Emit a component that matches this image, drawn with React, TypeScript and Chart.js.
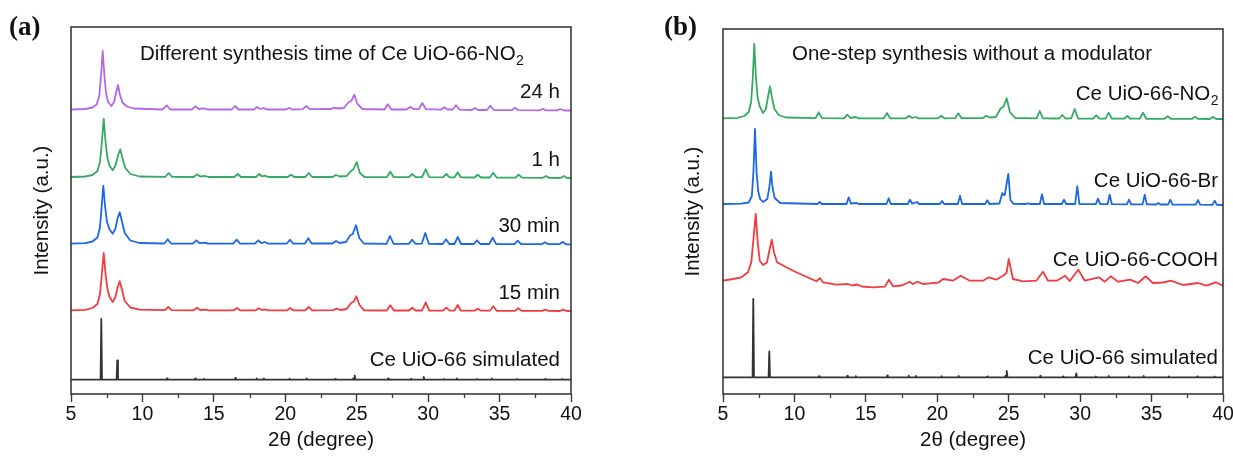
import React, { useEffect, useRef } from "react";
import { Chart, registerables } from "chart.js";

Chart.register(...registerables);

type Pt = [number, number];

const SANS = '"Liberation Sans", Arial, sans-serif';

const majorTicks = [5, 10, 15, 20, 25, 30, 35, 40];
const minorTicks = [7.5, 12.5, 17.5, 22.5, 27.5, 32.5, 37.5];

// ---------- Panel (a): stacked patterns (2θ, offset intensity a.u.) ----------
const a24h: Pt[] = [
  [5.0, 284.5], [6.0, 285], [6.5, 286.5], [6.8, 289.5], [6.98, 298], [7.1, 318], [7.22, 343], [7.34, 318], [7.46, 300], [7.6, 292], [7.82, 288], [8.02, 292], [8.15, 301], [8.29, 309], [8.43, 299], [8.6, 291.5], [8.9, 287.5], [9.4, 285.5],
  [11.4, 284.5], [11.7, 288.7], [11.95, 284.5],
  [13.45, 284.5], [13.7, 287.7], [13.95, 285], [14.29, 285.7], [14.55, 284.5],
  [16.25, 284.5], [16.48, 288], [16.72, 284.5],
  [17.8, 284.5], [18.02, 287], [18.25, 285], [18.49, 286], [18.7, 284.5],
  [20.05, 284.5], [20.28, 286.3], [20.5, 284.5],
  [21.22, 284.8], [21.47, 288], [21.72, 284.8],
  [23.2, 285], [23.43, 286.3], [23.7, 285.5],
  [24.1, 286], [24.44, 292], [24.62, 293], [24.83, 299.3], [25.05, 290], [25.4, 285],
  [26.95, 284.5], [27.17, 289.7], [27.42, 284.5],
  [28.5, 284.5], [28.75, 287.3], [29.0, 284.8],
  [29.35, 285], [29.59, 291], [29.85, 284.8],
  [30.9, 284.3], [31.13, 286.7], [31.35, 284.5],
  [31.72, 284.5], [31.95, 288.7], [32.2, 284.3],
  [33.05, 284], [33.28, 286], [33.5, 284],
  [34.12, 284], [34.35, 288.3], [34.6, 284],
  [35.85, 283.8], [36.08, 286.3], [36.3, 283.8],
  [37.8, 283.7], [38.02, 285.3], [38.25, 283.6],
  [39.02, 283.6], [39.25, 285], [39.5, 283.5], [40, 283.5],
];

const a1h: Pt[] = [
  [5.0, 217], [6.0, 217.5], [6.5, 219], [6.85, 223], [7.03, 232], [7.16, 252], [7.29, 275.3], [7.42, 252], [7.55, 236], [7.7, 228], [7.92, 223.7], [8.12, 229], [8.3, 239], [8.45, 244.7], [8.6, 236], [8.8, 226], [9.15, 220], [9.8, 217.5],
  [11.6, 217.2], [11.84, 221], [12.08, 217.2],
  [13.58, 217], [13.82, 219.7], [14.05, 217.5], [14.4, 218], [14.62, 217],
  [16.43, 217], [16.67, 220], [16.9, 217],
  [17.95, 217], [18.18, 220], [18.38, 217.5], [18.58, 218.3], [18.8, 217],
  [20.17, 217], [20.4, 219.3], [20.63, 217],
  [21.4, 217], [21.64, 221], [21.88, 217],
  [23.3, 217], [23.55, 219], [23.8, 217.5],
  [24.3, 218], [24.6, 223], [24.78, 225], [25.0, 232], [25.22, 221], [25.55, 217],
  [27.1, 216.8], [27.35, 222.3], [27.6, 216.8],
  [28.65, 216.8], [28.89, 220], [29.12, 216.8],
  [29.58, 217], [29.83, 224.7], [30.08, 216.8],
  [31.04, 216.6], [31.27, 220], [31.5, 216.6],
  [31.84, 216.6], [32.07, 221.7], [32.3, 216.6],
  [33.24, 216.5], [33.47, 219.3], [33.7, 216.5],
  [34.32, 216.5], [34.56, 221.3], [34.8, 216.4],
  [36.1, 216.3], [36.34, 219.3], [36.57, 216.3],
  [38.02, 216.2], [38.25, 218], [38.48, 216.1],
  [39.26, 216], [39.49, 218], [39.72, 216], [40, 216],
];

const a30min: Pt[] = [
  [5.0, 150.3], [6.0, 150.8], [6.5, 152.5], [6.85, 156.5], [7.02, 166], [7.14, 186], [7.26, 208.3], [7.39, 187], [7.52, 172], [7.68, 165], [7.92, 160.3], [8.1, 165], [8.27, 176], [8.41, 181.7], [8.56, 173], [8.76, 161], [9.15, 153.5], [9.8, 151],
  [11.53, 150.5], [11.77, 154.7], [12.0, 150.5],
  [13.53, 150.3], [13.77, 153.7], [14.0, 150.8], [14.38, 151.3], [14.6, 150.3],
  [16.36, 150.3], [16.6, 154.3], [16.84, 150.3],
  [17.87, 150.3], [18.11, 153.7], [18.33, 150.8], [18.58, 152], [18.8, 150.3],
  [20.1, 150.3], [20.33, 154.3], [20.56, 150.3],
  [21.37, 150.5], [21.61, 155.7], [21.85, 150.5],
  [23.3, 150.5], [23.55, 153], [23.8, 151],
  [24.25, 152], [24.55, 158.7], [24.72, 160], [24.95, 168.7], [25.18, 156], [25.5, 150.5],
  [27.08, 150.2], [27.33, 158], [27.58, 150.2],
  [28.65, 150.2], [28.89, 154.3], [29.12, 150.2],
  [29.55, 150.3], [29.8, 161], [30.05, 150.2],
  [31.02, 150], [31.25, 154.7], [31.48, 150],
  [31.84, 150], [32.07, 157], [32.3, 150],
  [33.19, 150], [33.42, 153.7], [33.65, 150],
  [34.28, 150], [34.52, 156.3], [34.76, 149.9],
  [36.04, 149.9], [36.27, 153.3], [36.5, 149.9],
  [37.95, 149.8], [38.18, 151.7], [38.41, 149.8],
  [39.19, 149.8], [39.42, 152], [39.65, 149.7], [40, 149.7],
];

const a15min: Pt[] = [
  [5.0, 83.7], [6.0, 84.2], [6.5, 86], [6.85, 90], [7.03, 100], [7.16, 120], [7.29, 141], [7.42, 120], [7.55, 105], [7.7, 97], [7.92, 92], [8.1, 96.5], [8.27, 107], [8.41, 112.7], [8.56, 105], [8.76, 93], [9.15, 86.5], [9.8, 84.3],
  [11.57, 83.8], [11.81, 87], [12.05, 83.8],
  [13.58, 83.7], [13.82, 86.3], [14.05, 84], [14.4, 84.3], [14.62, 83.6],
  [16.38, 83.6], [16.62, 86], [16.86, 83.6],
  [17.9, 83.6], [18.14, 85.7], [18.37, 84], [18.6, 84.7], [18.82, 83.6],
  [20.12, 83.6], [20.35, 86], [20.58, 83.6],
  [21.4, 83.7], [21.64, 87], [21.88, 83.7],
  [23.35, 83.8], [23.6, 85.3], [23.85, 84],
  [24.3, 85], [24.6, 91], [24.77, 92], [24.97, 97.7], [25.2, 89], [25.52, 83.7],
  [27.1, 83.5], [27.35, 88.7], [27.6, 83.5],
  [28.65, 83.5], [28.89, 86.3], [29.12, 83.5],
  [29.58, 83.5], [29.83, 91.7], [30.08, 83.4],
  [31.04, 83.4], [31.27, 86.3], [31.5, 83.4],
  [31.84, 83.4], [32.07, 89], [32.3, 83.3],
  [33.24, 83.3], [33.47, 85.3], [33.7, 83.3],
  [34.32, 83.3], [34.56, 87.7], [34.8, 83.2],
  [36.08, 83.2], [36.31, 85.7], [36.54, 83.1],
  [37.97, 83.1], [38.2, 84.3], [38.43, 83.1],
  [39.23, 83], [39.46, 84.3], [39.69, 83], [40, 83],
];

const aSimulated: Pt[] = [
  [5.0, 14.3], [7.07, 14.3], [7.12, 75], [7.17, 14.3], [8.19, 14.3], [8.24, 33.7], [8.29, 14.3],
  [11.68, 14.3], [11.72, 15.5], [11.76, 14.3],
  [13.66, 14.3], [13.7, 15.5], [13.74, 14.3],
  [14.26, 14.3], [14.3, 15.2], [14.34, 14.3],
  [16.46, 14.3], [16.5, 16], [16.54, 14.3],
  [17.96, 14.3], [18.0, 15.7], [18.04, 14.3],
  [18.46, 14.3], [18.5, 15.5], [18.54, 14.3],
  [20.26, 14.3], [20.3, 15.3], [20.34, 14.3],
  [21.46, 14.3], [21.5, 15.5], [21.54, 14.3],
  [23.46, 14.3], [23.5, 15], [23.54, 14.3],
  [24.72, 14.3], [24.76, 15.5], [24.8, 14.3], [24.82, 14.3], [24.86, 18.7], [24.92, 14.3],
  [27.16, 14.3], [27.2, 15.5], [27.24, 14.3],
  [28.76, 14.3], [28.8, 15], [28.84, 14.3],
  [29.65, 14.3], [29.69, 17], [29.74, 14.3],
  [31.06, 14.3], [31.1, 15], [31.14, 14.3],
  [31.96, 14.3], [32.0, 15.5], [32.04, 14.3],
  [33.36, 14.3], [33.4, 15], [33.44, 14.3],
  [34.41, 14.3], [34.45, 15.5], [34.49, 14.3],
  [36.16, 14.3], [36.2, 15], [36.24, 14.3],
  [38.16, 14.3], [38.2, 15], [38.24, 14.3],
  [39.36, 14.3], [39.4, 15], [39.44, 14.3], [40, 14.3],
];

// ---------- Panel (b) ----------
const bNO2: Pt[] = [
  [5.0, 275.7], [6.0, 276.2], [6.5, 278], [6.8, 282], [6.97, 292], [7.08, 315], [7.19, 350], [7.3, 318], [7.42, 297], [7.56, 288], [7.8, 281], [8.0, 285], [8.15, 297], [8.29, 307.7], [8.42, 297], [8.6, 285], [8.9, 279], [9.4, 276.5],
  [11.48, 275.8], [11.7, 281.7], [11.92, 275.8],
  [13.48, 275.7], [13.7, 279.3], [13.92, 276], [14.29, 277], [14.5, 275.7],
  [16.26, 275.7], [16.48, 281], [16.7, 275.7],
  [17.8, 275.7], [18.02, 278.3], [18.25, 276], [18.49, 277], [18.7, 275.7],
  [20.06, 275.7], [20.28, 278.3], [20.5, 275.7],
  [21.25, 275.8], [21.47, 280.7], [21.7, 275.8],
  [23.2, 276], [23.43, 278.3], [23.68, 276.5],
  [24.1, 277], [24.44, 285.7], [24.62, 287], [24.86, 295.7], [25.08, 282], [25.45, 276],
  [26.95, 275.6], [27.17, 283], [27.4, 275.6],
  [28.53, 275.5], [28.75, 279], [28.97, 275.5],
  [29.38, 275.7], [29.62, 285], [29.86, 275.5],
  [30.91, 275.4], [31.13, 278.7], [31.35, 275.4],
  [31.78, 275.4], [32.0, 281.3], [32.22, 275.3],
  [33.08, 275.3], [33.3, 278], [33.52, 275.3],
  [34.17, 275.3], [34.4, 281.3], [34.63, 275.2],
  [35.9, 275.2], [36.13, 277.7], [36.35, 275.2],
  [37.82, 275.1], [38.04, 277.3], [38.26, 275.1],
  [39.08, 275], [39.3, 277], [39.52, 275], [40, 275],
];

const bBr: Pt[] = [
  [5.0, 190], [6.3, 190.3], [6.8, 191.5], [7.02, 198], [7.13, 222], [7.24, 265], [7.35, 222], [7.46, 203], [7.6, 195], [7.8, 192], [8.1, 195], [8.25, 207], [8.36, 222.3], [8.47, 206], [8.62, 196], [9.0, 191],
  [11.62, 190], [11.77, 192], [11.92, 190],
  [13.65, 190], [13.8, 196.7], [13.95, 190.5], [14.36, 191], [14.5, 190],
  [16.45, 190], [16.6, 195.7], [16.75, 190],
  [17.94, 190], [18.09, 194.3], [18.25, 190.3], [18.58, 192], [18.72, 190],
  [20.18, 190], [20.33, 193], [20.48, 190],
  [21.44, 190], [21.59, 198.3], [21.74, 190],
  [23.35, 190], [23.5, 193.7], [23.65, 190],
  [24.35, 190.5], [24.55, 201], [24.65, 199], [24.72, 199], [24.97, 220], [25.12, 194], [25.35, 190.2],
  [26.2, 190], [26.35, 190.7], [26.5, 190],
  [27.18, 190], [27.33, 199.7], [27.48, 190],
  [28.72, 190], [28.87, 194.3], [29.02, 190],
  [29.65, 190], [29.8, 207.7], [29.95, 190],
  [31.1, 189.8], [31.25, 195.3], [31.4, 189.8],
  [31.92, 189.8], [32.07, 199.3], [32.22, 189.8],
  [33.27, 189.7], [33.42, 194.3], [33.57, 189.7],
  [34.37, 189.6], [34.52, 199.3], [34.67, 189.6],
  [35.32, 189.5], [35.47, 191], [35.62, 189.5],
  [36.16, 189.5], [36.31, 194.3], [36.46, 189.4],
  [38.1, 189.3], [38.25, 194], [38.4, 189.3],
  [39.27, 189.2], [39.42, 193.3], [39.57, 189.1], [40, 189],
];

const bCOOH: Pt[] = [
  [5.0, 113.3], [5.7, 115], [6.28, 116.7], [6.75, 121.7], [6.98, 131.7], [7.15, 158], [7.29, 180], [7.43, 151.7], [7.57, 133.3], [7.8, 129], [8.08, 131.7], [8.27, 145], [8.41, 154.3], [8.57, 141.7], [8.78, 131.7],
  [9.43, 126.7], [10.13, 121.7], [11.07, 115.7], [11.53, 112.7], [11.79, 115.7], [12.0, 111.7], [12.93, 109.3], [13.75, 110], [14.05, 108.5], [14.4, 109.5], [14.7, 107.5],
  [15.5, 106.7], [16.32, 107.3], [16.62, 114.3], [16.9, 107.7], [17.5, 108.5], [18.07, 112.3], [18.3, 110], [18.6, 112.3], [19.0, 110], [19.47, 110.7],
  [20.1, 111.5], [20.4, 115], [21.1, 113.3], [21.64, 118.3], [22.27, 113.3], [23.2, 113.3], [23.6, 116.7], [24.13, 114.3], [24.6, 118.3], [24.85, 121], [25.0, 135], [25.3, 115],
  [26.0, 112.7], [26.93, 113.3], [27.4, 122.3], [27.75, 113.3], [28.4, 113.5], [28.94, 118.3], [29.27, 113], [29.87, 124.3], [30.32, 113.3],
  [31.32, 116.7], [31.72, 112.3], [32.14, 117.7], [32.65, 112.3], [33.51, 114.3], [34.05, 111], [34.59, 117.7], [35.1, 111],
  [35.8, 111.5], [36.34, 113.3], [37.2, 109], [38.25, 111], [38.83, 108.3], [39.49, 111.7], [40, 108.3],
];

const bSimulated: Pt[] = [
  [5.0, 16.7], [7.07, 16.7], [7.12, 95], [7.17, 16.7], [8.19, 16.7], [8.24, 42.7], [8.29, 16.7],
  [11.68, 16.7], [11.72, 17.8], [11.76, 16.7],
  [13.66, 16.7], [13.7, 18], [13.74, 16.7],
  [14.26, 16.7], [14.3, 17.8], [14.34, 16.7],
  [16.46, 16.7], [16.5, 18.5], [16.54, 16.7],
  [17.96, 16.7], [18.0, 18.3], [18.04, 16.7],
  [18.46, 16.7], [18.5, 18], [18.54, 16.7],
  [20.26, 16.7], [20.3, 17.8], [20.34, 16.7],
  [21.46, 16.7], [21.5, 18], [21.54, 16.7],
  [23.46, 16.7], [23.5, 17.5], [23.54, 16.7],
  [24.72, 16.7], [24.76, 18], [24.8, 16.7], [24.82, 16.7], [24.86, 23], [24.92, 16.7],
  [27.16, 16.7], [27.2, 18], [27.24, 16.7],
  [28.76, 16.7], [28.8, 17.5], [28.84, 16.7],
  [29.68, 16.7], [29.73, 20.7], [29.78, 16.7],
  [31.06, 16.7], [31.1, 17.5], [31.14, 16.7],
  [31.96, 16.7], [32.0, 18], [32.04, 16.7],
  [33.36, 16.7], [33.4, 17.5], [33.44, 16.7],
  [34.41, 16.7], [34.45, 18], [34.49, 16.7],
  [36.16, 16.7], [36.2, 17.5], [36.24, 16.7],
  [38.16, 16.7], [38.2, 17.5], [38.24, 16.7],
  [39.36, 16.7], [39.4, 17.5], [39.44, 16.7], [40, 16.7],
];

// ---------- Labels ----------
const titleA: [string, string] = ["Different synthesis time of Ce UiO-66-NO", "2"];
const titleB: [string, string] = ["One-step synthesis without a modulator", ""];
const labelsA: [string, string][] = [["24 h", ""], ["1 h", ""], ["30 min", ""], ["15 min", ""], ["Ce UiO-66 simulated", ""]];
const labelsB: [string, string][] = [["Ce UiO-66-NO", "2"], ["Ce UiO-66-Br", ""], ["Ce UiO-66-COOH", ""], ["Ce UiO-66 simulated", ""]];

const colors = {
  purple: "#b468e4",
  green: "#35aa62",
  blue: "#1c68e2",
  red: "#f23b3e",
  black: "#333333",
};

const TEXT_SIZE = 20.5;

function drawSubText(ctx: CanvasRenderingContext2D, main: string, sub: string, x: number, y: number, align: "left" | "right", size: number) {
  const subSize = Math.round(size * 0.68);
  ctx.font = `${size}px ${SANS}`;
  const mw = ctx.measureText(main).width;
  ctx.font = `${subSize}px ${SANS}`;
  const sw = sub ? ctx.measureText(sub).width : 0;
  const startX = align === "left" ? x : x - mw - sw;
  ctx.textAlign = "left";
  ctx.textBaseline = "middle";
  ctx.font = `${size}px ${SANS}`;
  ctx.fillText(main, startX, y);
  if (sub) {
    ctx.font = `${subSize}px ${SANS}`;
    ctx.fillText(sub, startX + mw + 0.5, y + size * 0.33);
  }
}

type PanelCfg = {
  series: { pts: Pt[]; color: string }[];
  yMax: number;
  padTop: number;
  padRight: number;
  yAxisWidth: number;
  yTitleOffset: number;
  title: [string, string];
  titleDx: number;
  titleDy: number;
  labels: [string, string][];
  labelDy: number[];
  labelInset: number;
  tag: string;
  tagX: number;
  tagY: number;
};

function buildChart(canvas: HTMLCanvasElement, cfg: PanelCfg) {
  const framePlugin = {
    id: "frameAndText",
    afterDatasetsDraw(chart: any) {
      const { ctx, chartArea: ca } = chart;
      const xs = chart.scales.x;
      ctx.save();
      ctx.strokeStyle = "#3a3a3a";
      ctx.lineWidth = 1.6;
      ctx.strokeRect(ca.left, ca.top, ca.right - ca.left, ca.bottom - ca.top);
      ctx.lineWidth = 1.3;
      ctx.beginPath();
      minorTicks.forEach((v) => {
        const px = Math.round(xs.getPixelForValue(v)) + 0.5;
        ctx.moveTo(px, ca.bottom);
        ctx.lineTo(px, ca.bottom + 4);
      });
      ctx.stroke();

      ctx.fillStyle = "#111";
      drawSubText(ctx, cfg.title[0], cfg.title[1], ca.left + cfg.titleDx, ca.top + cfg.titleDy, "left", TEXT_SIZE);
      cfg.labels.forEach((l, i) => {
        drawSubText(ctx, l[0], l[1], ca.right - cfg.labelInset, ca.top + cfg.labelDy[i], "right", TEXT_SIZE);
      });
      ctx.font = `bold 27px "Liberation Serif", serif`;
      ctx.textAlign = "left";
      ctx.textBaseline = "middle";
      ctx.fillText(cfg.tag, cfg.tagX, cfg.tagY);
      ctx.restore();
    },
  };

  return new Chart(canvas, {
    type: "line",
    data: {
      datasets: cfg.series.map((s) => ({
        data: s.pts.map(([x, y]) => ({ x, y })),
        borderColor: s.color,
        borderWidth: 1.8,
        pointRadius: 0,
        tension: 0,
        fill: false,
        borderJoinStyle: "round",
      })),
    },
    options: {
      animation: false,
      responsive: false,
      maintainAspectRatio: false,
      layout: { padding: { left: 0, top: cfg.padTop, right: cfg.padRight, bottom: 0 } },
      plugins: { legend: { display: false }, tooltip: { enabled: false } },
      scales: {
        x: {
          type: "linear",
          min: 5,
          max: 40,
          afterBuildTicks: (scale: any) => {
            scale.ticks = majorTicks.map((v) => ({ value: v }));
          },
          ticks: {
            font: { family: SANS, size: 19.5 },
            color: "#111",
            padding: 1,
            maxRotation: 0,
            autoSkip: false,
          },
          grid: {
            display: true,
            drawOnChartArea: false,
            drawTicks: true,
            tickLength: 8,
            tickColor: "#3a3a3a",
            tickWidth: 1.4,
          },
          border: { display: false },
          title: {
            display: true,
            text: "2θ (degree)",
            font: { family: SANS, size: TEXT_SIZE },
            color: "#111",
            padding: { top: 0, bottom: 5 },
          },
          afterFit: (s: any) => {
            s.height = 64;
            s.paddingLeft = 0;
            s.paddingRight = 0;
          },
        },
        y: {
          type: "linear",
          min: 0,
          max: cfg.yMax,
          ticks: { display: false },
          grid: { display: false, drawTicks: false },
          border: { display: false },
          title: {
            display: true,
            text: "Intensity (a.u.)",
            font: { family: SANS, size: TEXT_SIZE },
            color: "#111",
            padding: { top: cfg.yTitleOffset, bottom: 0 },
          },
          afterFit: (s: any) => {
            s.width = cfg.yAxisWidth;
            s.paddingTop = 0;
            s.paddingBottom = 0;
          },
        },
      },
    } as any,
    plugins: [framePlugin],
  });
}

function Panel({ cfg, left, width }: { cfg: PanelCfg; left: number; width: number }) {
  const ref = useRef<HTMLCanvasElement | null>(null);
  useEffect(() => {
    if (!ref.current) return;
    const chart = buildChart(ref.current, cfg);
    return () => chart.destroy();
  }, []);
  return <canvas ref={ref} width={width} height={458} style={{ position: "absolute", left, top: 0, width, height: 458 }} />;
}

const panelA: PanelCfg = {
  series: [
    { pts: aSimulated, color: colors.black },
    { pts: a15min, color: colors.red },
    { pts: a30min, color: colors.blue },
    { pts: a1h, color: colors.green },
    { pts: a24h, color: colors.purple },
  ],
  yMax: 367,
  padTop: 27,
  padRight: 45,
  yAxisWidth: 71,
  yTitleOffset: 30,
  title: titleA,
  titleDx: 69,
  titleDy: 27,
  labels: labelsA,
  labelDy: [65, 133, 199, 266, 333],
  labelInset: 11,
  tag: "(a)",
  tagX: 9,
  tagY: 28,
};

const panelB: PanelCfg = {
  series: [
    { pts: bSimulated, color: colors.black },
    { pts: bCOOH, color: colors.red },
    { pts: bBr, color: colors.blue },
    { pts: bNO2, color: colors.green },
  ],
  yMax: 365,
  padTop: 29,
  padRight: 10,
  yAxisWidth: 107,
  yTitleOffset: 65,
  title: titleB,
  titleDx: 69,
  titleDy: 25,
  labels: labelsB,
  labelDy: [65, 152, 231, 329],
  labelInset: 5,
  tag: "(b)",
  tagX: 48,
  tagY: 28,
};

export default function App() {
  return (
    <div style={{ position: "absolute", left: 0, top: 0, width: 1233, height: 458, background: "#fff", overflow: "hidden" }}>
      <Panel cfg={panelA} left={0} width={616} />
      <Panel cfg={panelB} left={616} width={617} />
    </div>
  );
}
